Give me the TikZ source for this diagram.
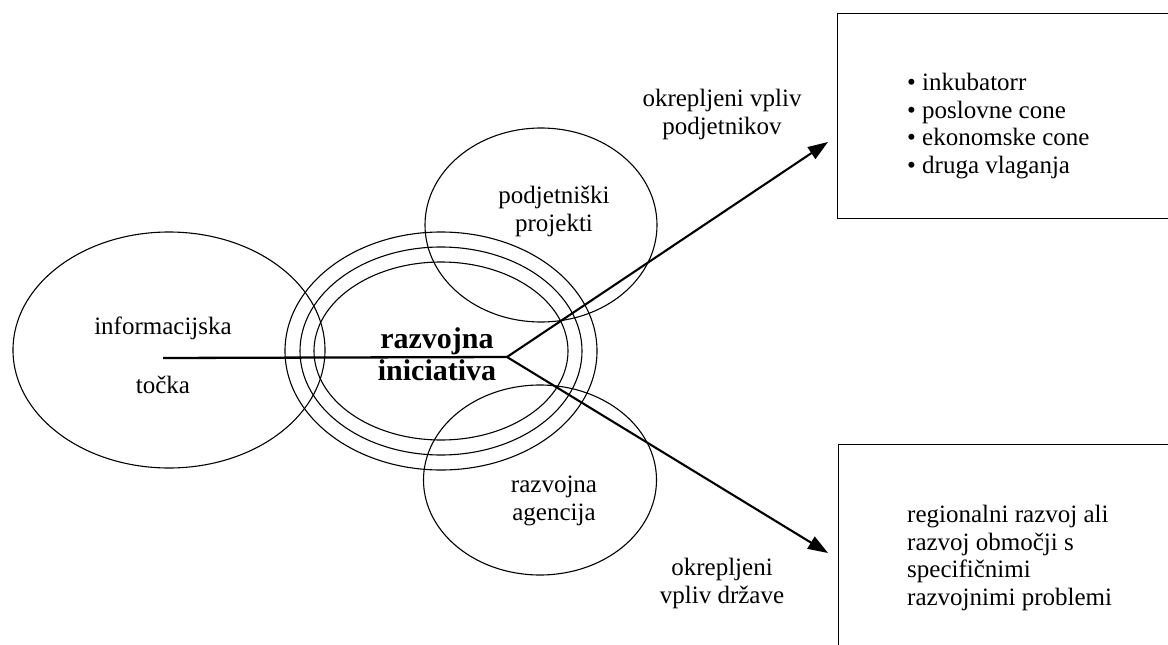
\documentclass[tikz,border=0pt]{standalone}
\usepackage{fontspec}
\setmainfont{Liberation Serif}
\usetikzlibrary{shapes.geometric,arrows.meta}
\begin{document}
\begin{tikzpicture}[x=1pt,y=-1pt,
  oval/.style={ellipse,draw,line width=1.1pt,inner sep=0pt},
  lbl/.style={font=\fontsize{25}{28}\selectfont,inner sep=0pt,align=center},
  boldlbl/.style={font=\fontsize{30}{32}\selectfont\bfseries,inner sep=0pt,align=center},
  listlbl/.style={font=\fontsize{25}{27.5}\selectfont,inner sep=0pt,align=left,anchor=west},
  conn/.style={line width=2.3pt},
  arr/.style={line width=2.1pt,-{Triangle[length=20pt,width=14pt]}},
  frame/.style={draw,line width=1.1pt,inner sep=0pt,anchor=north west}]
\useasboundingbox (0,0) rectangle (1168,645);
\fill[white] (0,0) rectangle (1168,645);
\clip (0,0) rectangle (1168,645);

% ovals
\node[oval,minimum width=312pt,minimum height=236pt] (info) at (169,350) {};
\node[oval,minimum width=312pt,minimum height=238pt] (ringC) at (441,351) {};
\node[oval,minimum width=282pt,minimum height=208pt] (ringB) at (441,351) {};
\node[oval,minimum width=254pt,minimum height=178pt] (ringA) at (441,351) {};
\node[oval,minimum width=232pt,minimum height=194pt] (proj) at (541,225) {};
\node[oval,minimum width=233pt,minimum height=190pt] (agen) at (540,480) {};

% boxes
\node[frame,minimum width=360pt,minimum height=205pt] (box1) at (837,13) {};
\node[frame,minimum width=360pt,minimum height=230pt] (box2) at (838,444) {};

% labels
\node[lbl] (infoA) at (163,328) {informacijska};
\node[lbl] (infoB) at (163,385) {točka};
\node[lbl] (projL) at (554,211) {podjetniški\\projekti};
\node[lbl] (agenL) at (554,501) {razvojna\\agencija};
\node[boldlbl] (ri) at (437,354) {razvojna\\iniciativa};
\node[lbl] (l1) at (722,114) {okrepljeni vpliv\\podjetnikov};
\node[lbl] (l2) at (722,583) {okrepljeni\\vpliv države};
\node[listlbl] (list1) at (907,126) {\textbullet\ inkubatorr\\\textbullet\ poslovne cone\\\textbullet\ ekonomske cone\\\textbullet\ druga vlaganja};
\node[listlbl] (list2) at (907,558) {regionalni razvoj ali\\razvoj območji s\\specifičnimi\\razvojnimi problemi};

% connectors
\coordinate (s) at (163,358);
\coordinate (v) at (507,357);
\coordinate (t1) at (828,142);
\coordinate (t2) at (828,553);
\draw[conn] (s) -- (v);
\draw[arr] (v) -- (t1);
\draw[arr] (v) -- (t2);
\end{tikzpicture}
\end{document}
